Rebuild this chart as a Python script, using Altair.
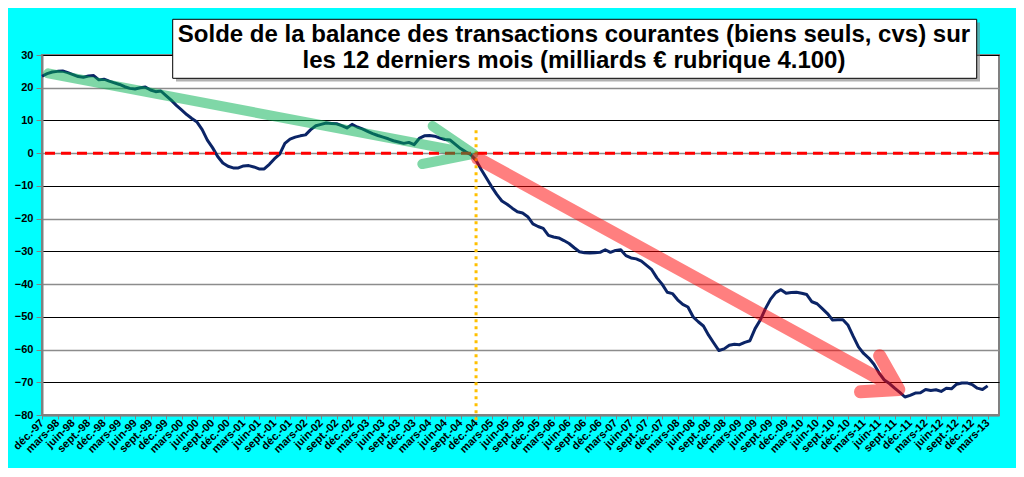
import altair as alt
import pandas as pd

# Monthly values, déc-97 (index 0) to mars-13 (index 183), milliards €
balance = [
    23.5, 24.3, 24.8, 25.0, 25.1, 24.6, 24.0, 23.4, 23.2, 23.6, 23.7, 22.4,
    22.6, 22.0, 21.5, 21.0, 20.3, 19.8, 19.6, 20.0, 20.2, 19.3, 18.8, 19.0,
    17.6, 16.2, 14.6, 13.2, 11.8, 10.6, 9.5, 7.2, 4.0, 1.7, -1.0, -3.0,
    -4.0, -4.5, -4.5, -3.9, -3.8, -4.2, -4.8, -4.8, -3.4, -1.7, -0.3, 3.0,
    4.3, 4.9, 5.3, 5.6, 7.2, 8.4, 8.8, 9.2, 9.1, 9.0, 8.4, 7.7,
    8.8, 8.0, 7.4, 6.7, 6.0, 5.4, 4.9, 4.4, 3.8, 3.4, 3.0, 3.3,
    2.6, 4.5, 5.3, 5.4, 5.2, 4.6, 4.2, 4.0, 2.7, 1.4, 0.4, -0.5,
    -2.2, -5.0, -7.6, -10.2, -12.6, -14.6, -15.6, -16.8, -17.9, -18.3, -19.4, -21.6,
    -22.4, -23.0, -25.1, -25.6, -25.9, -26.7, -27.6, -28.9, -30.1, -30.4, -30.5, -30.4,
    -30.3, -29.5, -30.3, -29.7, -29.5, -31.3, -32.0, -32.3, -33.0, -34.3, -35.6, -38.1,
    -40.0, -42.5, -42.9, -44.8, -46.2, -47.0, -50.0, -51.5, -52.8, -55.6, -58.0, -60.3,
    -59.8, -58.7, -58.4, -58.5, -57.8, -57.3, -53.6, -51.0, -47.5, -44.6, -42.6, -41.7,
    -42.8, -42.6, -42.5, -42.8, -43.2, -45.4, -46.0, -47.5, -49.0, -51.0, -50.9, -50.9,
    -52.6, -56.0, -59.2, -61.2, -62.6, -64.5, -67.2, -69.3, -70.4, -71.8, -73.1, -74.5,
    -74.0, -73.3, -73.2, -72.2, -72.5, -72.3, -72.8, -71.8, -72.0, -70.6, -70.2, -70.2,
    -70.7, -71.8, -72.2, -71.1,
]

quarter_names = {11: "déc.", 2: "mars", 5: "juin", 8: "sept."}
tick_values = list(range(0, len(balance), 3))
tick_labels = []
for i in tick_values:
    m = (11 + i) % 12
    y = 1997 + (11 + i) // 12
    tick_labels.append(f"{quarter_names[m]}-{y % 100:02d}")

y_ticks = list(range(-80, 31, 10))

title_lines = [
    "Solde de la balance des transactions courantes (biens seuls, cvs) sur",
    "les 12 derniers mois (milliards € rubrique 4.100)",
]

# annotation arrows (month index, value): tail, tip, head, tip, head
green_x = [1.2, 83.5, 75.6, 83.5, 73.6]
green_y = [24.4, -0.2, 8.3, -0.2, -3.3]
red_x = [84.3, 165.8, 162.1, 165.8, 158.4]
red_y = [-1.6, -72.2, -61.9, -72.2, -72.9]

df = pd.DataFrame({"m": list(range(len(balance))), "v": balance})
label_expr = "[" + ",".join(f"'{t}'" for t in tick_labels) + "][round(datum.value/3)]"

xscale = alt.Scale(domain=[0, 185.2], nice=False, zero=False)
yscale = alt.Scale(domain=[-80, 30], nice=False, zero=False)

x_axis = alt.Axis(
    values=tick_values, labelExpr=label_expr, title=None, grid=False,
    labelAngle=-45, labelAlign="right", labelBaseline="middle",
    labelFont="Liberation Sans", labelFontWeight="bold", labelFontSize=11,
    labelColor="black", labelPadding=2, labelOverlap=False, labelFlush=False,
    labelBound=False,
    domainColor="#808080", domainWidth=2, tickColor="#808080", tickSize=4,
)
y_axis = alt.Axis(
    values=y_ticks, title=None, grid=True,
    gridColor={"condition": {"test": "datum.value % 20 == 0", "value": "#8c8c8c"}, "value": "#000000"},
    gridWidth={"condition": {"test": "datum.value % 20 == 0", "value": 1.5}, "value": 1},
    labelFont="Liberation Sans", labelFontWeight="bold", labelFontSize=11,
    labelColor="black", labelPadding=3, labelOverlap=False,
    domainColor="#808080", domainWidth=2, tickColor="#808080", tickSize=6,
)


def X(field):
    return alt.X(field, scale=xscale, axis=x_axis)


def Y(field):
    return alt.Y(field, scale=yscale, axis=y_axis)


line = alt.Chart(df).mark_line(color="#0B2466", strokeWidth=3, strokeJoin="round").encode(
    x=X("m:Q"), y=Y("v:Q"),
)

zero_rule = alt.Chart(pd.DataFrame({"v": [0]})).mark_rule(
    color="#FF0000", strokeWidth=3, strokeDash=[10, 6]
).encode(y=Y("v:Q"))

vline = alt.Chart(pd.DataFrame({"m": [84], "a": [7], "b": [-82.5]})).mark_rule(
    color="#FFC000", strokeWidth=3, strokeDash=[3, 4], clip=False
).encode(x=X("m:Q"), y=Y("a:Q"), y2="b:Q")

green_df = pd.DataFrame({"m": green_x, "v": green_y, "o": list(range(len(green_x)))})
red_df = pd.DataFrame({"m": red_x, "v": red_y, "o": list(range(len(red_x)))})

green_arrow = alt.Chart(green_df).mark_line(
    color="#00B050", opacity=0.5, strokeWidth=10, strokeCap="round", strokeJoin="round"
).encode(x=X("m:Q"), y=Y("v:Q"), order="o:Q")

red_arrow = alt.Chart(red_df).mark_line(
    color="#FF0000", opacity=0.5, strokeWidth=13, strokeCap="round", strokeJoin="round"
).encode(x=X("m:Q"), y=Y("v:Q"), order="o:Q")

# title box (annotation, pixel positions relative to plot area)
box_df = pd.DataFrame({"k": [0]})
shadow = alt.Chart(box_df).mark_rect(color="#7f7f7f", opacity=0.6).encode(
    x=alt.value(134), x2=alt.value(938), y=alt.value(-32.5), y2=alt.value(26.5)
)
box = alt.Chart(box_df).mark_rect(fill="white", stroke="black", strokeWidth=1).encode(
    x=alt.value(130.7), x2=alt.value(934.7), y=alt.value(-35.7), y2=alt.value(23.3)
)
title_style = dict(
    font="Liberation Sans Narrow, Arial Narrow, Liberation Sans", fontWeight="bold",
    fontSize=24, color="black", align="center", baseline="alphabetic",
)
title1 = alt.Chart(pd.DataFrame({"t": [title_lines[0]]})).mark_text(**title_style).encode(
    text="t:N", x=alt.value(532), y=alt.value(-12.7)
)
title2 = alt.Chart(pd.DataFrame({"t": [title_lines[1]]})).mark_text(**title_style).encode(
    text="t:N", x=alt.value(532), y=alt.value(13.3)
)

chart = alt.layer(
    line, zero_rule, vline, green_arrow, red_arrow, shadow, box, title1, title2
).properties(
    width=957, height=360,
    autosize=alt.AutoSizeParams(type="none"),
    padding={"left": 34, "top": 47, "right": 17, "bottom": 53},
    background="#00FFFF",
).configure_view(fill="white", stroke="#808080", strokeWidth=2).configure_axis(
    labelOverlap=False
)

chart.save("out.html", embed_options={"renderer": "svg", "actions": False})
